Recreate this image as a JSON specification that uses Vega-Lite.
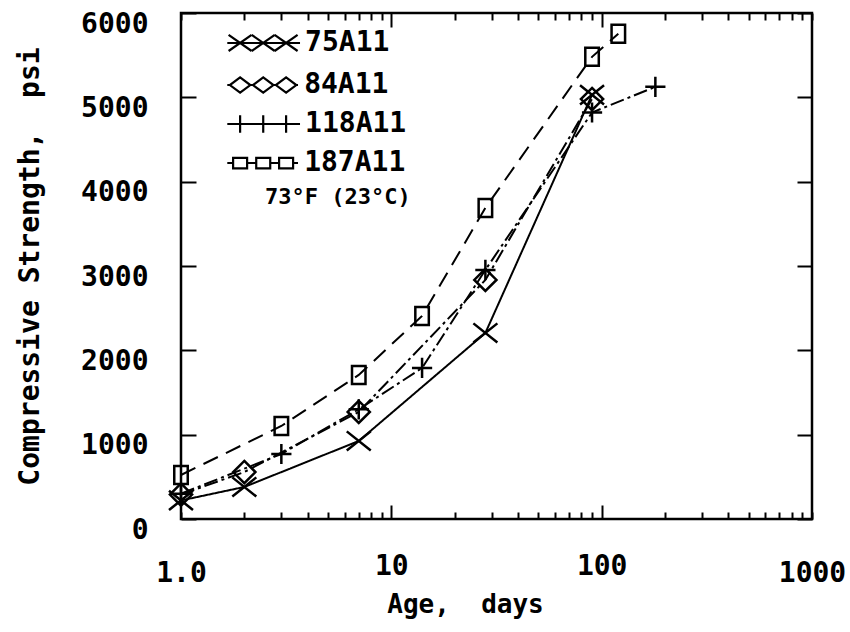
{
  "$schema": "https://vega.github.io/schema/vega-lite/v6.json",
  "width": 631,
  "height": 506,
  "autosize": {"type": "none"},
  "padding": {"left": 181, "top": 13, "right": 38, "bottom": 113},
  "background": "white",
  "config": {
    "view": {"stroke": "#000", "strokeWidth": 2.5},
    "font": "DejaVu Sans Mono"
  },
  "datasets": {
    "pts": [
      {"series": "75A11", "age": 1, "psi": 220},
      {"series": "75A11", "age": 2, "psi": 380},
      {"series": "75A11", "age": 7, "psi": 925},
      {"series": "75A11", "age": 28, "psi": 2206},
      {"series": "75A11", "age": 90, "psi": 5030},
      {"series": "84A11", "age": 1, "psi": 290},
      {"series": "84A11", "age": 2, "psi": 557},
      {"series": "84A11", "age": 7, "psi": 1270},
      {"series": "84A11", "age": 28, "psi": 2835},
      {"series": "84A11", "age": 90, "psi": 4980},
      {"series": "118A11", "age": 1, "psi": 300},
      {"series": "118A11", "age": 3, "psi": 771},
      {"series": "118A11", "age": 7, "psi": 1300},
      {"series": "118A11", "age": 14, "psi": 1791},
      {"series": "118A11", "age": 28, "psi": 2954},
      {"series": "118A11", "age": 90, "psi": 4820},
      {"series": "118A11", "age": 180, "psi": 5125},
      {"series": "187A11", "age": 1, "psi": 522},
      {"series": "187A11", "age": 3, "psi": 1103},
      {"series": "187A11", "age": 7, "psi": 1708},
      {"series": "187A11", "age": 14, "psi": 2408},
      {"series": "187A11", "age": 28, "psi": 3689},
      {"series": "187A11", "age": 90, "psi": 5480},
      {"series": "187A11", "age": 120, "psi": 5753}
    ],
    "leg": [
      {"series": "75A11", "x": 1.91, "y": 5645},
      {"series": "75A11", "x": 2.46, "y": 5645},
      {"series": "75A11", "x": 3.16, "y": 5645},
      {"series": "84A11", "x": 1.91, "y": 5146},
      {"series": "84A11", "x": 2.46, "y": 5146},
      {"series": "84A11", "x": 3.16, "y": 5146},
      {"series": "118A11", "x": 1.91, "y": 4684},
      {"series": "118A11", "x": 2.46, "y": 4684},
      {"series": "118A11", "x": 3.16, "y": 4684},
      {"series": "187A11", "x": 1.91, "y": 4221},
      {"series": "187A11", "x": 2.46, "y": 4221},
      {"series": "187A11", "x": 3.16, "y": 4221}
    ],
    "legline": [
      {"series": "75A11", "x1": 1.66, "x2": 3.68, "y": 5645},
      {"series": "84A11", "x1": 1.66, "x2": 3.6, "y": 5146},
      {"series": "118A11", "x1": 1.66, "x2": 3.68, "y": 4684},
      {"series": "187A11", "x1": 1.66, "x2": 3.6, "y": 4221}
    ],
    "legtext": [
      {"label": "75A11", "x": 3.89, "y": 5645, "sz": "big"},
      {"label": "84A11", "x": 3.85, "y": 5146, "sz": "big"},
      {"label": "118A11", "x": 3.89, "y": 4684, "sz": "big"},
      {"label": "187A11", "x": 3.85, "y": 4221, "sz": "big"},
      {"label": "73°F (23°C)", "x": 2.51, "y": 3818, "sz": "small"}
    ]
  },
  "layer": [
    {
      "data": {"name": "pts"},
      "mark": {"type": "line", "color": "black", "strokeWidth": 2, "interpolate": "linear"},
      "encoding": {
        "x": {
          "field": "age", "type": "quantitative",
          "scale": {"type": "log", "domain": [1, 1000], "nice": false},
          "axis": {
            "orient": "bottom",
            "values": [1,2,3,4,5,6,7,8,9,10,20,30,40,50,60,70,80,90,100,200,300,400,500,600,700,800,900,1000],
            "labelExpr": "datum.value == 1 ? '1.0' : (datum.value == 10 ? '10' : (datum.value == 100 ? '100' : (datum.value == 1000 ? '1000' : '')))",
            "tickSize": {"condition": {"test": "datum.value == 10 || datum.value == 100", "value": -14}, "value": -7},
            "tickWidth": 2, "tickColor": "black", "domain": false, "grid": false,
            "labelFont": "DejaVu Sans Mono", "labelFontWeight": "bold", "labelFontSize": 28, "labelColor": "black",
            "labelPadding": 47, "labelOverlap": false, "labelFlush": false, "labelBound": false,
            "title": "Age,\u00a0\u00a0days", "titleFont": "DejaVu Sans Mono", "titleFontSize": 26, "titleFontWeight": "bold",
            "titleColor": "black", "titlePadding": 4, "titleX": 284
          }
        },
        "y": {
          "field": "psi", "type": "quantitative",
          "scale": {"domain": [0, 6000], "nice": false},
          "axis": {
            "orient": "left",
            "values": [0, 1000, 2000, 3000, 4000, 5000, 6000],
            "format": "d",
            "tickSize": -15, "tickWidth": 2, "tickColor": "black", "domain": false, "grid": false,
            "labelFont": "DejaVu Sans Mono", "labelFontWeight": "bold", "labelFontSize": 28, "labelColor": "black",
            "labelPadding": 48, "labelOffset": 11, "labelOverlap": false, "labelFlush": false, "labelBound": false,
            "title": "Compressive\u00a0Strength,\u00a0\u00a0psi", "titleFont": "DejaVu Sans Mono", "titleFontSize": 28, "titleFontWeight": "bold",
            "titleColor": "black", "titlePadding": 36
          }
        },
        "detail": {"field": "series"},
        "strokeDash": {
          "field": "series", "type": "nominal",
          "scale": {"domain": ["75A11", "84A11", "118A11", "187A11"], "range": [[1, 0], [14, 4, 3, 4], [14, 4, 3, 4], [16, 9]]},
          "legend": null
        }
      }
    },
    {
      "data": {"name": "pts"},
      "mark": {"type": "point", "filled": false, "stroke": "black", "strokeWidth": 2.5, "opacity": 1},
      "encoding": {
        "x": {
          "field": "age", "type": "quantitative",
          "scale": {"type": "log", "domain": [1, 1000], "nice": false},
          "axis": {
            "orient": "top",
            "values": [1,2,3,4,5,6,7,8,9,10,20,30,40,50,60,70,80,90,100,200,300,400,500,600,700,800,900,1000],
            "labels": false,
            "tickSize": {"condition": {"test": "datum.value == 10 || datum.value == 100", "value": -14}, "value": -7},
            "tickWidth": 2, "tickColor": "black", "domain": false, "grid": false, "title": null
          }
        },
        "y": {
          "field": "psi", "type": "quantitative",
          "scale": {"domain": [0, 6000], "nice": false},
          "axis": {
            "orient": "right",
            "values": [0, 1000, 2000, 3000, 4000, 5000, 6000],
            "labels": false, "tickSize": -15, "tickWidth": 2, "tickColor": "black",
            "domain": false, "grid": false, "title": null
          }
        },
        "shape": {
          "field": "series", "type": "nominal",
          "scale": {"domain": ["75A11", "84A11", "118A11", "187A11"],
                    "range": ["M-1,-0.8L1,0.8M1,-0.8L-1,0.8", "M0,-1L1,0L0,1L-1,0Z", "M-1,0L1,0M0,-1L0,1", "M-0.75,-1H0.75V1H-0.75Z"]},
          "legend": null
        },
        "size": {
          "field": "series", "type": "nominal",
          "scale": {"domain": ["75A11", "84A11", "118A11", "187A11"], "range": [576, 324, 576, 484]},
          "legend": null
        }
      }
    },
    {
      "data": {"name": "legline"},
      "mark": {"type": "rule", "color": "black", "strokeWidth": 2},
      "encoding": {
        "x": {"field": "x1", "type": "quantitative", "scale": {"type": "log", "domain": [1, 1000], "nice": false}, "axis": null},
        "x2": {"field": "x2"},
        "y": {"field": "y", "type": "quantitative", "scale": {"domain": [0, 6000], "nice": false}, "axis": null}
      }
    },
    {
      "data": {"name": "leg"},
      "mark": {"type": "point", "filled": true, "fill": "white", "stroke": "black", "strokeWidth": 2.2, "opacity": 1},
      "encoding": {
        "x": {"field": "x", "type": "quantitative", "scale": {"type": "log", "domain": [1, 1000], "nice": false}, "axis": null},
        "y": {"field": "y", "type": "quantitative", "scale": {"domain": [0, 6000], "nice": false}, "axis": null},
        "shape": {
          "field": "series", "type": "nominal",
          "scale": {"domain": ["75A11", "84A11", "118A11", "187A11"],
                    "range": ["M-1,-0.7L1,0.7M1,-0.7L-1,0.7", "M0,-0.75L1,0L0,0.75L-1,0Z", "M-1,0L1,0M0,-1L0,1", "M-1,-0.75H1V0.75H-1Z"]},
          "legend": null
        },
        "size": {
          "field": "series", "type": "nominal",
          "scale": {"domain": ["75A11", "84A11", "118A11", "187A11"], "range": [529, 196, 400, 256]},
          "legend": null
        }
      }
    },
    {
      "data": {"name": "legtext"},
      "mark": {"type": "text", "align": "left", "baseline": "middle", "font": "DejaVu Sans Mono", "fontWeight": "bold", "color": "black"},
      "encoding": {
        "x": {"field": "x", "type": "quantitative", "scale": {"type": "log", "domain": [1, 1000], "nice": false}, "axis": null},
        "y": {"field": "y", "type": "quantitative", "scale": {"domain": [0, 6000], "nice": false}, "axis": null},
        "text": {"field": "label"},
        "size": {"field": "sz", "type": "nominal", "scale": {"domain": ["big", "small"], "range": [28, 22]}, "legend": null}
      }
    }
  ],
  "resolve": {
    "axis": {"x": "independent", "y": "independent"},
    "scale": {"size": "independent", "shape": "independent"}
  }
}
